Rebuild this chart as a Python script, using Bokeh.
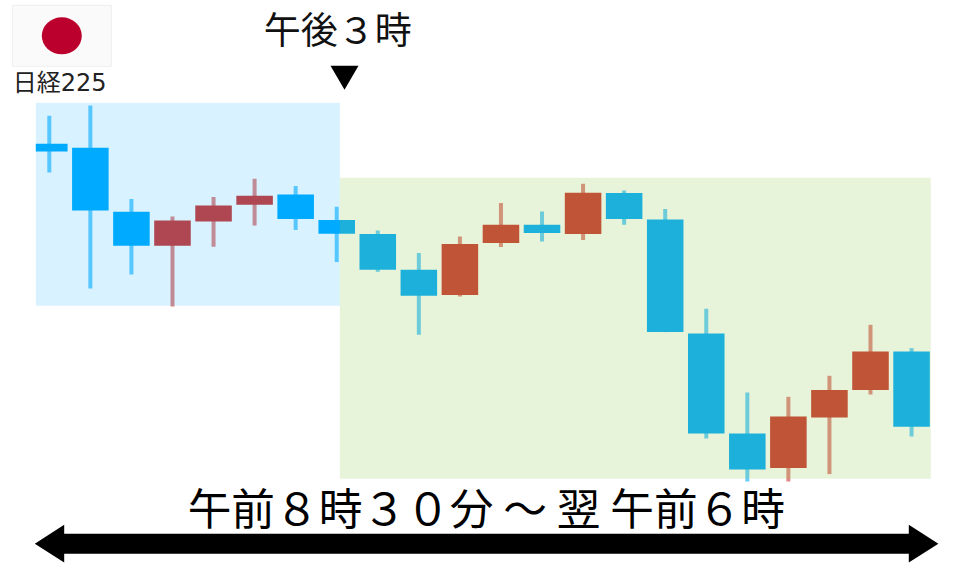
from bokeh.embed import file_html
from bokeh.resources import INLINE
from bokeh.plotting import figure, ColumnDataSource
from bokeh.models import Range1d
from bokeh.core.properties import value

# Candle values: prices measured upward from the picture's bottom edge
candle_index = list(range(22))
open_price = [423, 419, 355, 321, 345.3, 362, 372.3, 346.7, 332.7, 297, 271.7, 323.7, 342, 332.7, 373.7, 347.3, 233.3, 133.3, 98.7, 149.3, 176.7, 215.3]
close_price = [415.3, 356.3, 321, 346.3, 361.3, 371, 347.7, 333, 297, 271, 322.7, 342, 333.7, 374, 347.7, 234.7, 133.3, 97.3, 150.3, 176.7, 215.3, 140]
high_price = [451, 461.3, 367.7, 350.3, 369.7, 388, 380.7, 360, 336.3, 313.7, 330.3, 363.7, 355.3, 383, 376.3, 357.7, 258, 174.3, 170, 191, 242, 218.7]
low_price = [394.3, 278.3, 292.3, 260.3, 320, 341.3, 336.7, 304.7, 295, 232, 270.3, 319.7, 325.3, 326.7, 342, 234.7, 128.3, 85.3, 85.3, 92.7, 172.3, 130.3]

UP, DOWN = "#CD3733", "#00ABFF"
colors = [UP if c > o else DOWN for o, c in zip(open_price, close_price)]
# the first body is cropped on its left by the picture's panel
body_left = [max(i - 0.445, -0.329) for i in candle_index]
body_right = [i + 0.445 for i in candle_index]

src = ColumnDataSource(dict(i=candle_index, o=open_price, c=close_price, h=high_price, l=low_price,
                            color=colors, left=body_left, right=body_right))

SHIFT = 0.7
p = figure(width=960, height=567, output_backend="svg", toolbar_location=None,
           x_range=Range1d(SHIFT, 960 + SHIFT), y_range=Range1d(567 + SHIFT, SHIFT),
           min_border=0, min_border_left=0, min_border_right=0, min_border_top=0, min_border_bottom=0,
           x_axis_type=None, y_axis_type=None, outline_line_color=None, background_fill_color="white")
p.grid.visible = False
p.extra_x_ranges = {"idx": Range1d((SHIFT - 49.5) / 41.06, (960 + SHIFT - 49.5) / 41.06)}
p.extra_y_ranges = {"price": Range1d(-SHIFT, 567 - SHIFT)}

# candles
p.segment("i", "h", "i", "l", source=src, line_color="color", line_width=4, line_alpha=0.6,
          x_range_name="idx", y_range_name="price")
p.quad(left="left", right="right", top="o", bottom="c", source=src, fill_color="color", line_color=None,
       x_range_name="idx", y_range_name="price")

# translucent session panels on top of the candles
p.quad(left=[36], right=[340], top=[103], bottom=[306], fill_color="#00ABFF", fill_alpha=0.15, line_color=None)
p.quad(left=[340], right=[931], top=[178], bottom=[479], fill_color="#8EC846", fill_alpha=0.2, line_color=None)

# flag
p.quad(left=[12.5], right=[111.5], top=[5.5], bottom=[66.5], fill_color="#FAFAFA", line_color="#EEEEEE", line_width=1)
p.ellipse(x=[62], y=[36], width=[40], height=[37], fill_color="#BC002D", line_color=None)

JP = value("Noto Sans CJK JP")
p.text(x=[13], y=[83], text=["日経225"], text_font=value("DejaVu Sans, Noto Sans CJK JP"), text_font_size="24px",
       text_color="#222222", text_baseline="middle", text_align="left")
p.text(x=[338], y=[28.5], text=["午後３時"], text_font=JP, text_font_size="37px",
       text_color="#111111", text_baseline="middle", text_align="center")
p.text(x=[486.5], y=[506.5], text=["午前８時３０分 ～ 翌 午前６時"], text_font=JP, text_font_size="43.7px",
       text_color="black", text_baseline="middle", text_align="center")

# markers
p.patch(x=[330.7, 358.7, 344.7], y=[66, 66, 90], fill_color="black", line_color=None)
p.patch(x=[35, 64.4, 64.4, 909, 909, 938.6, 909, 909, 64.4, 64.4],
        y=[544, 525, 534, 534, 525, 544, 562.7, 554, 554, 562.7], fill_color="black", line_color=None)

open("out.html", "w").write(file_html(p, INLINE))
